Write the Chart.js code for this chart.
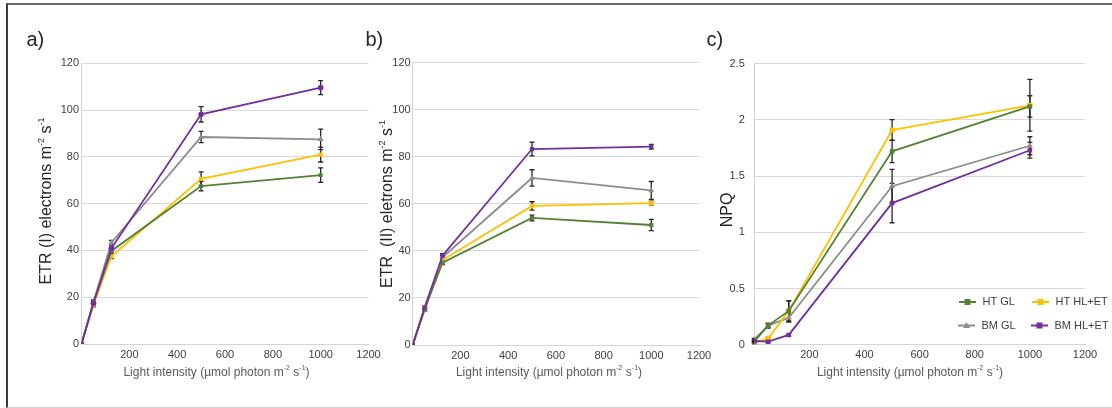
<!DOCTYPE html>
<html>
<head>
<meta charset="utf-8">
<title>ETR and NPQ light curves</title>
<script src="https://cdn.jsdelivr.net/npm/chart.js@4.4.1/dist/chart.umd.min.js"></script>
<style>
  html, body { margin: 0; padding: 0; background: #ffffff; }
  #wrap { position: relative; width: 1112px; height: 408px; overflow: hidden; background: #ffffff; }
  #wrap canvas { position: absolute; left: 0; top: 0; }
  #frame {
    position: absolute; left: 6px; top: 3px; width: 1120px; height: 402px;
    border-top: 2px solid #6b6b6b; border-left: 2px solid #3a3a3a; border-bottom: 1px solid #cfcfcf;
  }
</style>
</head>
<body>
<div id="wrap">
  <div id="frame"></div>
  <canvas id="chartA" width="1112" height="408"></canvas>
  <canvas id="chartB" width="1112" height="408"></canvas>
  <canvas id="chartC" width="1112" height="408"></canvas>
</div>
<script>
// Light intensities (µmol photon m-2 s-1)
const lightLevels = [0, 50, 125, 500, 1000];
const seriesNames = ['HT GL', 'HT HL+ET', 'BM GL', 'BM HL+ET'];
const xTicks = [0, 200, 400, 600, 800, 1000, 1200];

// a) ETR (I)
const etr1HtGl    = [0, 17.7, 39.8, 67.5, 72.2];
const etr1HtGlErr = [0, 0.8, 1.0, 2.0, 3.1];
const etr1HtHl    = [0, 16.7, 37.5, 70.6, 81.0];
const etr1HtHlErr = [0, 0.8, 1.0, 3.0, 3.2];
const etr1BmGl    = [0, 18.1, 43.3, 88.5, 87.5];
const etr1BmGlErr = [0, 0.8, 1.0, 2.4, 4.4];
const etr1BmHl    = [0, 17.4, 40.9, 98.2, 109.6];
const etr1BmHlErr = [0, 0.8, 1.2, 3.3, 3.0];

// b) ETR (II)
const etr2HtGl    = [0, 15.2, 35.0, 54.0, 51.0];
const etr2HtGlErr = [0, 0.5, 0.8, 1.2, 2.4];
const etr2HtHl    = [0, 16.0, 36.1, 59.1, 60.3];
const etr2HtHlErr = [0, 0.5, 0.8, 1.8, 0.8];
const etr2BmGl    = [0, 14.9, 37.3, 71.0, 65.7];
const etr2BmGlErr = [0, 0.5, 0.8, 3.5, 3.8];
const etr2BmHl    = [0, 15.9, 38.0, 83.3, 84.3];
const etr2BmHlErr = [0, 0.5, 0.8, 2.9, 1.0];

// c) NPQ
const npqHtGl    = [0.030, 0.17, 0.30, 1.72, 2.12];
const npqHtGlErr = [0.01, 0.02, 0.09, 0.10, 0.095];
const npqHtHl    = [0.018, 0.056, 0.30, 1.91, 2.13];
const npqHtHlErr = [0.01, 0.01, 0.09, 0.092, 0.23];
const npqBmGl    = [0.047, 0.17, 0.24, 1.41, 1.77];
const npqBmGlErr = [0.01, 0.02, 0.04, 0.15, 0.08];
const npqBmHl    = [0.033, 0.027, 0.087, 1.26, 1.73];
const npqBmHlErr = [0.01, 0.01, 0.01, 0.175, 0.07];

const colors = ['#548235', '#FFC000', '#8c8c8c', '#7030A0'];
const FONT = '"Liberation Sans", Arial, Helvetica, sans-serif';

// Text made of plain and superscript pieces
function richWidth(ctx, segs, size) {
  let w = 0;
  for (const [t, sup] of segs) {
    ctx.font = (sup ? Math.round(size * 0.58) : size) + 'px ' + FONT;
    w += ctx.measureText(t).width;
  }
  return w;
}
function drawRich(ctx, segs, size, x, y, color) {
  ctx.fillStyle = color;
  ctx.textAlign = 'left';
  ctx.textBaseline = 'alphabetic';
  for (const [t, sup] of segs) {
    const s = sup ? Math.round(size * 0.58) : size;
    ctx.font = s + 'px ' + FONT;
    ctx.fillText(t, x, sup ? y - size * 0.42 : y);
    x += ctx.measureText(t).width;
  }
}

const xTitleSegs = [['Light intensity (\u00B5mol photon m', false], ['-2', true], [' s', false], ['-1', true], [')', false]];

const overlay = {
  id: 'overlay',
  beforeDatasetsDraw(chart) {
    // error bars
    const ctx = chart.ctx;
    const ys = chart.scales.y;
    ctx.save();
    ctx.strokeStyle = '#262626';
    ctx.lineWidth = 1.3;
    chart.data.datasets.forEach((ds, i) => {
      const meta = chart.getDatasetMeta(i);
      ds.errors.forEach((e, j) => {
        if (!e) return;
        const v = ds.data[j].y;
        const px = meta.data[j].x;
        const t = ys.getPixelForValue(v + e);
        const b = ys.getPixelForValue(v - e);
        ctx.beginPath();
        ctx.moveTo(px, t); ctx.lineTo(px, b);
        ctx.moveTo(px - 2.5, t); ctx.lineTo(px + 2.5, t);
        ctx.moveTo(px - 2.5, b); ctx.lineTo(px + 2.5, b);
        ctx.stroke();
      });
    });
    ctx.restore();
  },
  afterDraw(chart, args, o) {
    const ctx = chart.ctx;
    ctx.save();
    // panel letter
    ctx.font = '20px ' + FONT;
    ctx.fillStyle = '#262626';
    ctx.textAlign = 'left';
    ctx.textBaseline = 'alphabetic';
    ctx.fillText(o.letter, o.letterX, 45.5);
    // y title (rotated)
    const yw = richWidth(ctx, o.yTitle, 16);
    ctx.save();
    ctx.translate(o.yTitleX, o.yTitleY);
    ctx.rotate(-Math.PI / 2);
    drawRich(ctx, o.yTitle, 16, -yw / 2, 0, '#262626');
    ctx.restore();
    // x title
    const xw = richWidth(ctx, xTitleSegs, 12);
    drawRich(ctx, xTitleSegs, 12, o.xTitleX - xw / 2, 375.5, '#595959');
    // legend
    if (o.legend) {
      o.legend.forEach((it) => {
        const ds = chart.data.datasets[it.ds];
        ctx.strokeStyle = ds.borderColor;
        ctx.lineWidth = 2;
        ctx.beginPath();
        ctx.moveTo(it.x, it.y); ctx.lineTo(it.x + 17, it.y);
        ctx.stroke();
        ctx.fillStyle = ds.borderColor;
        const cx = it.x + 8.5;
        if (ds.pointStyle === 'triangle') {
          ctx.beginPath();
          ctx.moveTo(cx, it.y - 3.5); ctx.lineTo(cx + 3.5, it.y + 2.5); ctx.lineTo(cx - 3.5, it.y + 2.5);
          ctx.closePath(); ctx.fill();
        } else if (ds.pointStyle === 'circle') {
          ctx.beginPath(); ctx.arc(cx, it.y, 3, 0, Math.PI * 2); ctx.fill();
        } else {
          ctx.fillRect(cx - 3, it.y - 3, 6, 6);
        }
        ctx.font = '11px ' + FONT;
        ctx.fillStyle = '#404040';
        ctx.textBaseline = 'middle';
        ctx.fillText(seriesNames[it.ds], it.x + 23.5, it.y);
      });
    }
    ctx.restore();
  }
};

function makeDatasets(vals, errs, styles, radii) {
  return vals.map((v, i) => ({
    label: seriesNames[i],
    data: lightLevels.map((x, j) => ({ x: x, y: v[j] })),
    errors: errs[i],
    borderColor: colors[i],
    backgroundColor: colors[i],
    pointBackgroundColor: colors[i],
    pointBorderColor: colors[i],
    pointStyle: styles[i],
    pointRadius: radii[i],
    pointBorderWidth: 0,
    borderWidth: 1.8,
    tension: 0,
    order: i === 3 ? 0 : i + 1
  }));
}

function makeChart(id, cfg) {
  return new Chart(document.getElementById(id), {
    type: 'line',
    data: { datasets: cfg.datasets },
    options: {
      responsive: false,
      animation: false,
      events: [],
      layout: { padding: cfg.padding },
      plugins: { legend: { display: false }, tooltip: { enabled: false }, overlay: cfg.overlay },
      scales: {
        x: {
          type: 'linear', min: 0, max: 1200,
          afterBuildTicks: (s) => { s.ticks = xTicks.map(v => ({ value: v })); },
          afterFit: (s) => { s.height = 20; },
          grid: { display: false, drawTicks: false },
          border: { display: true, color: '#d4d4d4', width: 1 },
          ticks: {
            padding: 4, color: '#404040', font: { family: FONT, size: 11 },
            maxRotation: 0, autoSkip: false,
            callback: (v) => (v === 0 ? '' : String(v))
          }
        },
        y: {
          type: 'linear', min: 0, max: cfg.yMax,
          afterBuildTicks: (s) => { s.ticks = cfg.yTicks.map(v => ({ value: v })); },
          afterFit: (s) => { s.width = 40; },
          grid: { color: '#d9d9d9', lineWidth: 1, drawTicks: false },
          border: { display: true, color: '#d4d4d4', width: 1 },
          ticks: {
            padding: cfg.yPad, color: '#404040', font: { family: FONT, size: 11 },
            autoSkip: false,
            callback: (v) => String(v)
          }
        }
      }
    },
    plugins: [overlay]
  });
}

const etrTicks = [0, 20, 40, 60, 80, 100, 120];
const npqTicks = [0, 0.5, 1, 1.5, 2, 2.5];

makeChart('chartA', {
  datasets: makeDatasets(
    [etr1HtGl, etr1HtHl, etr1BmGl, etr1BmHl],
    [etr1HtGlErr, etr1HtHlErr, etr1BmGlErr, etr1BmHlErr],
    ['rect', 'rect', 'triangle', 'circle'], [2.8, 3, 3.5, 2.8]),
  padding: { left: 41.5, right: 743.5, top: 63.3, bottom: 44 },
  yMax: 120, yTicks: etrTicks, yPad: 2.5,
  overlay: {
    letter: 'a)', letterX: 26.5,
    yTitle: [['ETR (I) electrons m', false], ['-2', true], [' s', false], ['-1', true]],
    yTitleX: 51, yTitleY: 201, xTitleX: 216.5
  }
});

makeChart('chartB', {
  datasets: makeDatasets(
    [etr2HtGl, etr2HtHl, etr2BmGl, etr2BmHl],
    [etr2HtGlErr, etr2HtHlErr, etr2BmGlErr, etr2BmHlErr],
    ['rect', 'rect', 'triangle', 'rect'], [3, 3.2, 3.5, 3]),
  padding: { left: 372.7, right: 413, top: 62.7, bottom: 43 },
  yMax: 120, yTicks: etrTicks, yPad: 2,
  overlay: {
    letter: 'b)', letterX: 365.5,
    yTitle: [['ETR  (II) eletrons m', false], ['-2', true], [' s', false], ['-1', true]],
    yTitleX: 391.5, yTitleY: 204, xTitleX: 549
  }
});

makeChart('chartC', {
  datasets: makeDatasets(
    [npqHtGl, npqHtHl, npqBmGl, npqBmHl],
    [npqHtGlErr, npqHtHlErr, npqBmGlErr, npqBmHlErr],
    ['rect', 'rect', 'triangle', 'rect'], [3.2, 3.6, 3.6, 3.2]),
  padding: { left: 714.3, right: 27, top: 63.7, bottom: 43.3 },
  yMax: 2.5, yTicks: npqTicks, yPad: 9.5,
  overlay: {
    letter: 'c)', letterX: 706.5,
    yTitle: [['NPQ', false]],
    yTitleX: 731.5, yTitleY: 210, xTitleX: 910,
    legend: [
      { ds: 0, x: 959, y: 302 },
      { ds: 1, x: 1032, y: 302 },
      { ds: 2, x: 958, y: 325.5 },
      { ds: 3, x: 1031, y: 325.5 }
    ]
  }
});
</script>
</body>
</html>
